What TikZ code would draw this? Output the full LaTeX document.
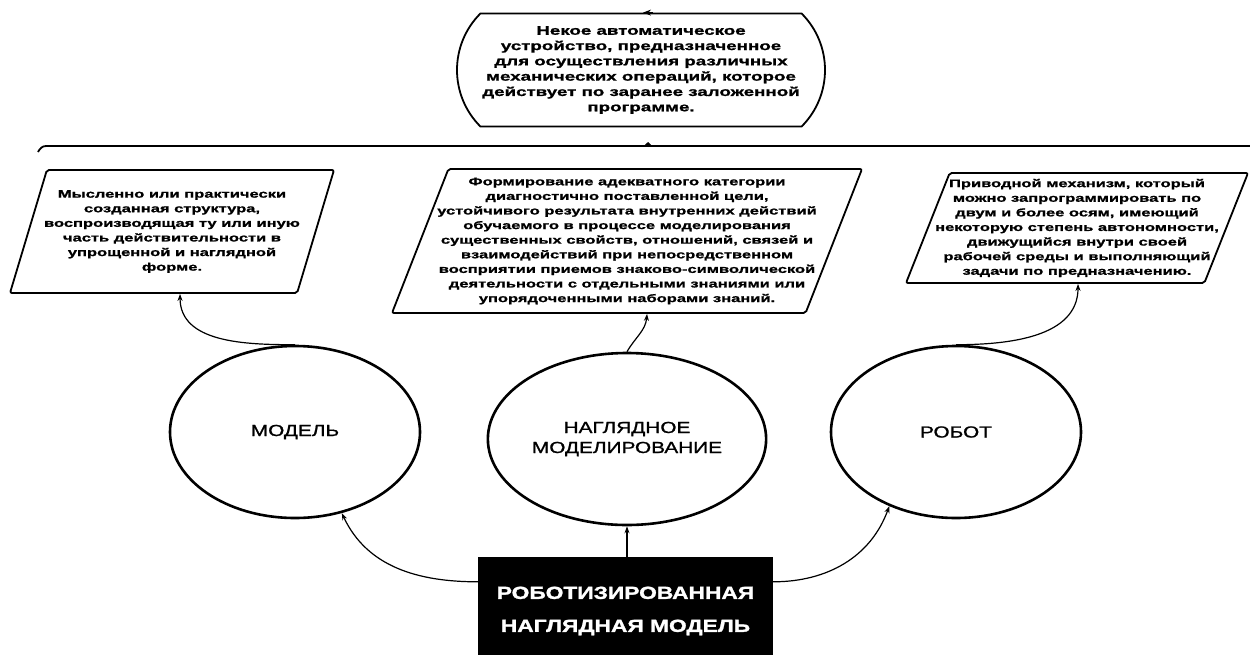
\documentclass[tikz,border=0pt]{standalone}
\usepackage{fontspec}
\usepackage{tikz}
\usetikzlibrary{shapes.geometric}
\usetikzlibrary{shapes.misc}
\usetikzlibrary{arrows.meta}
\newfontfamily\boxfont{Liberation Sans Bold}[FakeStretch=1.5, FakeBold=1.2]
\newfontfamily\labelfont{Liberation Sans}[FakeStretch=1.3, FakeBold=1.2]
\newfontfamily\darkfont{Liberation Sans Bold}[FakeStretch=1.3, FakeBold=1.5]

\tikzset{
  defbox/.style={trapezium, trapezium left angle=66, trapezium right angle=114,
    trapezium stretches body, draw, line width=1.8pt, rounded corners=2pt,
    inner xsep=-30pt, inner ysep=0pt, align=center,
    font=\boxfont\fontsize{11}{14.6}\selectfont},
  concept/.style={ellipse, draw, line width=2.6pt, minimum width=250pt,
    minimum height=172pt, align=center, font=\labelfont\fontsize{16}{20}\selectfont},
  conn/.style={-{Stealth[length=7pt,width=5pt]}, line width=1.2pt},
}

\begin{document}
\begin{tikzpicture}[x=1pt,y=1pt]

    \useasboundingbox (0,0) rectangle (1250,-654);
    \clip (0,0) rectangle (1250,-654);

    % Top definition
    \node[rounded rectangle, rounded rectangle arc length=90, draw, line width=1.8pt,
          minimum width=368pt, minimum height=113pt, inner sep=0pt, align=center,
          font=\boxfont\fontsize{12.5}{15.3}\selectfont]
          (robotdef) at (641,-70)
          {Некое автоматическое\\ устройство, предназначенное\\
           для осуществления различных\\ механических операций, которое\\
           действует по заранее заложенной\\ программе.};
    \draw[-{Stealth[length=8pt,width=6pt]}, line width=1.2pt]
          ([xshift=12pt]robotdef.north) -- ([xshift=2pt]robotdef.north);

    % Brace line
    \coordinate (braceL) at (38,-152);
    \coordinate (braceM) at (648,-146);
    \coordinate (braceR) at (1255,-146);
    \draw[line width=1.8pt] (braceL) to[out=60, in=180] (46,-146) -- (braceR);
    \draw[-{Triangle[length=4pt,width=8pt]}, line width=1pt]
          ([yshift=-1pt]braceM) -- ([yshift=4pt]braceM);

    % Definitions
    \node[defbox, minimum width=324pt, minimum height=123pt] (modeldef) at (172,-231.5)
          {Мысленно или практически\\ созданная структура,\\
           воспроизводящая ту или иную\\ часть действительности в\\
           упрощенной и наглядной\\ форме.};
    \node[defbox, minimum width=470pt, minimum height=144pt] (visualdef) at (627,-241)
          {Формирование адекватного категории\\ диагностично поставленной цели,\\
           устойчивого результата внутренних действий\\
           обучаемого в процессе моделирования\\
           существенных свойств, отношений, связей и\\
           взаимодействий при непосредственном\\
           восприятии приемов знаково-символической\\
           деятельности с отдельными знаниями или\\
           упорядоченными наборами знаний.};
    \node[defbox, minimum width=342pt, minimum height=110pt] (robotmech) at (1077,-228)
          {Приводной механизм, который\\ можно запрограммировать по\\
           двум и более осям, имеющий\\ некоторую степень автономности,\\
           движущийся внутри своей\\ рабочей среды и выполняющий\\
           задачи по предназначению.};

    % Concepts
    \node[concept] (model) at (295,-432) {МОДЕЛЬ};
    \node[concept] (visual) at (627,-439) {НАГЛЯДНОЕ\\ МОДЕЛИРОВАНИЕ};
    \node[concept] (robot) at (956,-432) {РОБОТ};

    % Robotic model
    \node[fill=black, text=white, minimum width=295pt, minimum height=108pt,
          align=center, font=\darkfont\fontsize{17.5}{33}\selectfont]
          (robomodel) at (625.5,-611) {РОБОТИЗИРОВАННАЯ\\ НАГЛЯДНАЯ МОДЕЛЬ};

    % Links
    \draw[conn] ([yshift=-25pt]robomodel.north west) to[out=180, in=-65] (model.-60);
    \draw[conn] (robomodel.north -| visual.south) -- (visual.south);
    \draw[conn] ([yshift=-25pt]robomodel.north east) to[out=0, in=-110] (robot.-132);

    \draw[conn] (model.north) to[out=180, in=-90] ([xshift=8pt]modeldef.south);
    \draw[conn] (visual.north) to[out=60, in=-95] ([xshift=20pt]visualdef.south);
    \draw[conn] (robot.north) to[out=0, in=-90] ([xshift=1pt]robotmech.south);

\end{tikzpicture}
\end{document}
